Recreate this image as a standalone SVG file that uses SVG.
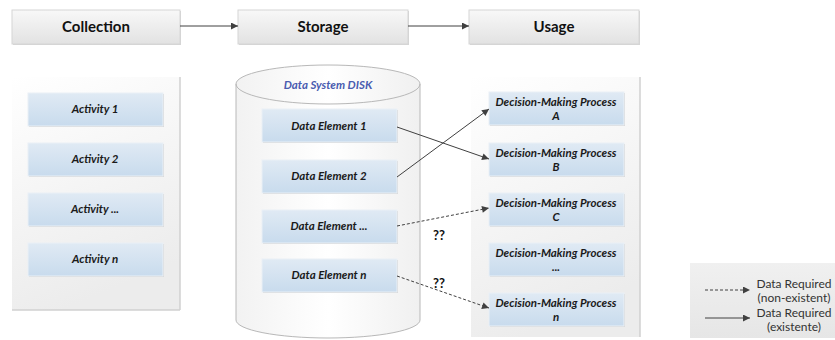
<svg xmlns="http://www.w3.org/2000/svg" width="835" height="340" viewBox="0 0 835 340">
<defs>
<linearGradient id="gHead" x1="0" y1="0" x2="0" y2="1"><stop offset="0" stop-color="#f8f8f8"/><stop offset="1" stop-color="#e2e2e2"/></linearGradient>
<linearGradient id="gBox" x1="0" y1="0" x2="0" y2="1"><stop offset="0" stop-color="#e0eaf4"/><stop offset="1" stop-color="#c8dbed"/></linearGradient>
<linearGradient id="gPanel" x1="0" y1="0" x2="0.3" y2="1"><stop offset="0" stop-color="#ffffff"/><stop offset="1" stop-color="#ececec"/></linearGradient>
<linearGradient id="gCyl" x1="0" y1="0" x2="1" y2="0"><stop offset="0" stop-color="#f2f2f2"/><stop offset="0.5" stop-color="#ffffff"/><stop offset="1" stop-color="#f0f0f0"/></linearGradient>
<linearGradient id="gLeg" x1="0" y1="0" x2="0" y2="1"><stop offset="0" stop-color="#f0f0f0"/><stop offset="1" stop-color="#e6e6e6"/></linearGradient>
<marker id="arr" viewBox="0 0 10 10" refX="10" refY="5" markerWidth="9" markerHeight="7" markerUnits="userSpaceOnUse" orient="auto"><path d="M0,0 L10,5 L0,10 Z" fill="#404040"/></marker>
</defs>
<style>
.head{fill:url(#gHead);stroke:#d6d6d6;stroke-width:1}
.headt{font-family:Lato,"Liberation Sans",sans-serif;font-weight:bold;font-size:15px;fill:#111;text-anchor:middle}
.box{fill:url(#gBox);stroke:#eaf0f6;stroke-width:1}
.shadow{fill:#d4d4d4}
.bt{font-family:Lato,"Liberation Sans",sans-serif;font-weight:bold;font-style:italic;font-size:11.5px;fill:#1a1a1a;text-anchor:middle}
.panel{fill:url(#gPanel)}
.edge{stroke:#d0d0d0;stroke-width:1.5}
.solid{stroke:#404040;stroke-width:1;fill:none}
.dash{stroke:#404040;stroke-width:1;fill:none;stroke-dasharray:3,2}
.q{font-family:Lato,"Liberation Sans",sans-serif;font-weight:bold;font-size:13px;fill:#111;text-anchor:middle}
.lt{font-family:Lato,"Liberation Sans",sans-serif;font-size:12px;fill:#333;text-anchor:middle}
</style>

<g id="header-collection">
<rect x="13" y="11" width="168" height="34" class="shadow"/>
<rect x="12" y="10" width="168" height="34" class="head"/>
<text x="96" y="32" class="headt">Collection</text>
</g>
<g id="header-storage">
<rect x="239" y="11" width="170" height="34" class="shadow"/>
<rect x="238" y="10" width="170" height="34" class="head"/>
<text x="323" y="32" class="headt">Storage</text>
</g>
<g id="header-usage">
<rect x="470" y="11" width="170" height="34" class="shadow"/>
<rect x="469" y="10" width="170" height="34" class="head"/>
<text x="554" y="32" class="headt">Usage</text>
</g>

<g id="panel-collection">
<rect x="12" y="77" width="168" height="233" class="panel"/>
<line x1="180" y1="77" x2="180" y2="310" class="edge"/>
<line x1="12" y1="310" x2="180" y2="310" class="edge"/>
</g>
<g id="panel-usage">
<rect x="471" y="77" width="169" height="260" class="panel"/>
<line x1="640" y1="77" x2="640" y2="337" class="edge"/>
</g>

<g id="activity-1"><rect x="29" y="94" width="135" height="33" class="shadow"/><rect x="28" y="93" width="135" height="33" class="box"/><text x="95" y="113" class="bt">Activity 1</text></g>
<g id="activity-2"><rect x="29" y="144" width="135" height="33" class="shadow"/><rect x="28" y="143" width="135" height="33" class="box"/><text x="95" y="163" class="bt">Activity 2</text></g>
<g id="activity-dots"><rect x="29" y="194" width="135" height="33" class="shadow"/><rect x="28" y="193" width="135" height="33" class="box"/><text x="95" y="213" class="bt">Activity ...</text></g>
<g id="activity-n"><rect x="29" y="244" width="135" height="33" class="shadow"/><rect x="28" y="243" width="135" height="33" class="box"/><text x="95" y="263" class="bt">Activity n</text></g>

<g id="storage-disk">
<path d="M236,84 L236,320 A92,18 0 0 0 420,320 L420,84 A92,19 0 0 0 236,84 Z" fill="url(#gCyl)" stroke="#b8b8b8" stroke-width="1"/>
<path d="M236,84 A92,20 0 0 0 420,84" fill="none" stroke="#b8b8b8" stroke-width="1"/>
<text x="328" y="89" class="bt" style="fill:#4a5cb0">Data System DISK</text>
</g>

<g id="data-element-1"><rect x="263" y="110" width="135" height="33" class="shadow"/><rect x="262" y="109" width="135" height="33" class="box"/><text x="329" y="130" class="bt">Data Element 1</text></g>
<g id="data-element-2"><rect x="263" y="161" width="135" height="33" class="shadow"/><rect x="262" y="160" width="135" height="33" class="box"/><text x="329" y="180" class="bt">Data Element 2</text></g>
<g id="data-element-dots"><rect x="263" y="211" width="135" height="33" class="shadow"/><rect x="262" y="210" width="135" height="33" class="box"/><text x="329" y="230" class="bt">Data Element ...</text></g>
<g id="data-element-n"><rect x="263" y="260" width="135" height="33" class="shadow"/><rect x="262" y="259" width="135" height="33" class="box"/><text x="329" y="279" class="bt">Data Element n</text></g>

<g id="dmp-a"><rect x="490" y="93" width="135" height="33" class="shadow"/><rect x="489" y="92" width="135" height="33" class="box"/><text x="556" y="106" class="bt">Decision-Making Process</text><text x="556" y="120" class="bt">A</text></g>
<g id="dmp-b"><rect x="490" y="144" width="135" height="33" class="shadow"/><rect x="489" y="143" width="135" height="33" class="box"/><text x="556" y="157" class="bt">Decision-Making Process</text><text x="556" y="171" class="bt">B</text></g>
<g id="dmp-c"><rect x="490" y="194" width="135" height="33" class="shadow"/><rect x="489" y="193" width="135" height="33" class="box"/><text x="556" y="207" class="bt">Decision-Making Process</text><text x="556" y="221" class="bt">C</text></g>
<g id="dmp-dots"><rect x="490" y="244" width="135" height="33" class="shadow"/><rect x="489" y="243" width="135" height="33" class="box"/><text x="556" y="257" class="bt">Decision-Making Process</text><text x="556" y="271" class="bt">...</text></g>
<g id="dmp-n"><rect x="490" y="294" width="135" height="33" class="shadow"/><rect x="489" y="293" width="135" height="33" class="box"/><text x="556" y="307" class="bt">Decision-Making Process</text><text x="556" y="321" class="bt">n</text></g>

<g id="legend">
<rect x="690" y="263" width="145" height="75" fill="url(#gLeg)"/>
<line x1="705" y1="290" x2="750" y2="290" class="dash" marker-end="url(#arr)"/>
<line x1="705" y1="318" x2="750" y2="318" class="solid" marker-end="url(#arr)"/>
<text x="794" y="288" class="lt">Data Required</text>
<text x="794" y="302" class="lt">(non-existent)</text>
<text x="794" y="317" class="lt">Data Required</text>
<text x="794" y="331" class="lt">(existente)</text>
</g>

<g id="connectors">
<line x1="180" y1="26" x2="238" y2="26" class="solid" marker-end="url(#arr)"/>
<line x1="408" y1="26" x2="469" y2="26" class="solid" marker-end="url(#arr)"/>
<line x1="397" y1="127" x2="489" y2="159" class="solid" marker-end="url(#arr)"/>
<line x1="397" y1="177" x2="489" y2="109" class="solid" marker-end="url(#arr)"/>
<line x1="397" y1="226" x2="489" y2="208" class="dash" marker-end="url(#arr)"/>
<line x1="397" y1="276" x2="489" y2="308" class="dash" marker-end="url(#arr)"/>
<text x="439" y="240" class="q">??</text>
<text x="439" y="288" class="q">??</text>
</g>
</svg>
